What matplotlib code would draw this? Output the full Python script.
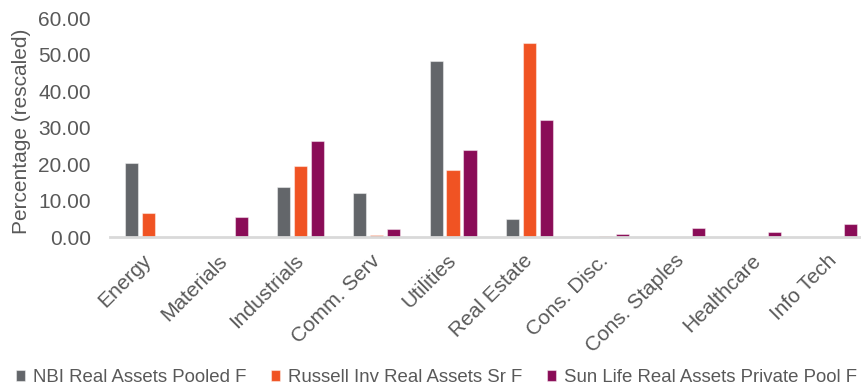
import matplotlib
matplotlib.use("Agg")
import matplotlib.pyplot as plt
import matplotlib.transforms as mtransforms
import numpy as np

categories = ["Energy", "Materials", "Industrials", "Comm. Serv", "Utilities",
              "Real Estate", "Cons. Disc.", "Cons. Staples", "Healthcare", "Info Tech"]
series_names = ["NBI Real Assets Pooled F", "Russell Inv Real Assets Sr F",
                "Sun Life Real Assets Private Pool F"]
nbi = [20.4, 0.0, 13.6, 12.1, 48.2, 4.8, 0.0, 0.0, 0.0, 0.0]
russell = [6.7, 0.0, 19.5, 0.6, 18.4, 53.2, 0.4, 0.0, 0.0, 0.1]
sunlife = [0.1, 5.4, 26.2, 2.2, 23.8, 32.1, 0.9, 2.5, 1.4, 3.7]
colors = ["#63666A", "#F05323", "#8A0C57"]
yticks = [0, 10, 20, 30, 40, 50, 60]

plt.rcParams["font.family"] = ["Liberation Sans", "DejaVu Sans"]
text_color = "#595959"

fig = plt.figure(figsize=(8.61, 3.86), dpi=100)
ax = fig.add_axes([0.1282, 0.386, 0.8844, 0.567])

x = np.arange(len(categories))
w = 0.172
step = 0.223
for i, (vals, name, c) in enumerate(zip([nbi, russell, sunlife], series_names, colors)):
    ax.bar(x + (i - 1) * step, vals, width=w, color=c, label=name,
           edgecolor=(1, 1, 1, 0.45), linewidth=0.8)

ax.set_xlim(-0.5, len(categories) - 0.5)
ax.set_ylim(0, 60)
ax.set_yticks(yticks)
ax.set_yticklabels([f"{v:.2f}" for v in yticks], fontsize=15, color=text_color)
ax.set_xticks(x)
ax.set_xticklabels(categories, rotation=45, ha="right", rotation_mode="anchor",
                   fontsize=15, color=text_color)
offset = mtransforms.ScaledTranslation(5 / 100, 0, fig.dpi_scale_trans)
for lbl in ax.get_xticklabels():
    lbl.set_va("center")
    lbl.set_transform(lbl.get_transform() + offset)
ax.tick_params(axis="both", length=0)
ax.tick_params(axis="x", pad=15)
ax.tick_params(axis="y", pad=14)
for s in ["top", "right", "left"]:
    ax.spines[s].set_visible(False)
ax.spines["bottom"].set_color("#D9D9D9")
ax.spines["bottom"].set_linewidth(2)

fig.text(22 / 861, 1 - 131.5 / 386, "Percentage (rescaled)", rotation=90,
         ha="center", va="center", fontsize=15, color=text_color)

leg = fig.legend(loc="center", bbox_to_anchor=(0.507, 0.022), ncol=3, frameon=False,
                 fontsize=13.4, handlelength=0.45, handleheight=0.5,
                 handletextpad=0.43, columnspacing=1.35, borderaxespad=0,
                 borderpad=0)
for t in leg.get_texts():
    t.set_color(text_color)

fig.savefig("out.png", dpi=100)
